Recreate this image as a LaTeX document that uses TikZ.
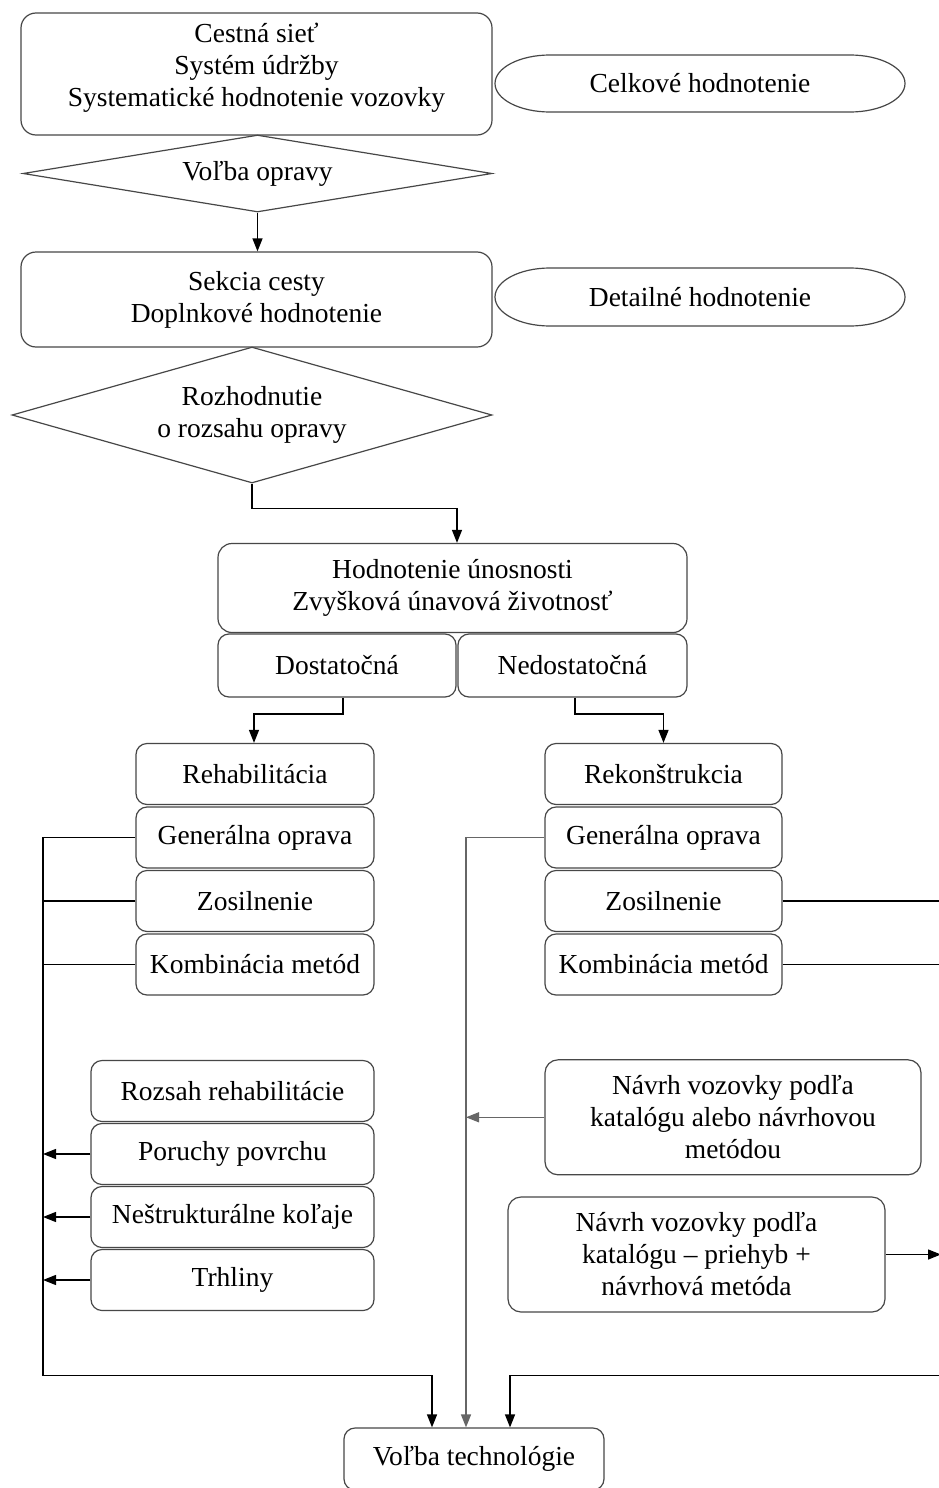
\documentclass[tikz,border=0pt]{standalone}
\usepackage{fontspec}
\setmainfont{Liberation Serif}
\usetikzlibrary{shapes.geometric,arrows.meta,calc}
\begin{document}
\begin{tikzpicture}[x=1pt,y=-1pt,
  every node/.style={font=\fontsize{27.5}{32}\selectfont, align=center, inner sep=0pt},
  rbox/.style n args={3}{draw=black!72, line width=1.2pt, rounded corners=#1, minimum width=#2, minimum height=#3},
  dia/.style={diamond, draw=black!72, line width=1.2pt},
  oval/.style={draw=black!72, line width=1.2pt},
  conn/.style={draw=black, line width=1.3pt},
  arr/.style={conn, -{Triangle[length=13pt,width=10pt]}},
  mid/.style={draw=black!60}
]
\useasboundingbox (0,0) rectangle (939,1488);
\fill[white] (0,0) rectangle (939,1488);

% top part
\node[rbox={15pt}{471pt}{122pt}] (box1) at (256.5,74) {};
\node (box1t) at (256.5,67.5) {Cestná sieť\\Systém údržby\\Systematické hodnotenie vozovky};

\node (cel) at (700,83.5) {Celkové hodnotenie};
\draw[oval] ($(cel.center)+(-150,-28.5)$) -- ($(cel.center)+(150,-28.5)$)
  arc[start angle=90, end angle=-90, x radius=55pt, y radius=28.5pt]
  -- ($(cel.center)+(-150,28.5)$)
  arc[start angle=270, end angle=90, x radius=55pt, y radius=28.5pt] -- cycle;

\node[dia, aspect=6, minimum width=469pt, minimum height=77pt] (dia1) at (257.5,173.5) {Voľba opravy};

\node[rbox={15pt}{471pt}{95pt}] (box2) at (256.5,299.5) {Sekcia cesty\\Doplnkové hodnotenie};

\node (det) at (700,297) {Detailné hodnotenie};
\draw[oval] ($(det.center)+(-150,-29)$) -- ($(det.center)+(150,-29)$)
  arc[start angle=90, end angle=-90, x radius=55pt, y radius=29pt]
  -- ($(det.center)+(-150,29)$)
  arc[start angle=270, end angle=90, x radius=55pt, y radius=29pt] -- cycle;

\node[dia, aspect=3.5, minimum width=480pt, minimum height=136pt] (dia2) at (252,415) {Rozhodnutie\\o rozsahu opravy};

% bearing capacity
\node[rbox={14pt}{469pt}{89pt}] (hod) at (452.5,588) {Hodnotenie únosnosti\\Zvyšková únavová životnosť};
\node[rbox={11pt}{238pt}{63pt}] (dos) at (337,665.5) {Dostatočná};
\node[rbox={11pt}{229pt}{63pt}] (ned) at (572.5,665.5) {Nedostatočná};

% left column
\node[rbox={11pt}{238pt}{61pt}] (reh) at (255,774) {Rehabilitácia};
\node[rbox={11pt}{238pt}{61pt}] (gen1) at (255,837.5) {Generálna oprava};
\node[rbox={11pt}{238pt}{61pt}] (zos1) at (255,901) {Zosilnenie};
\node[rbox={11pt}{238pt}{61pt}] (kom1) at (255,964.5) {Kombinácia metód};

% right column
\node[rbox={11pt}{237pt}{61pt}] (rek) at (663.5,774) {Rekonštrukcia};
\node[rbox={11pt}{237pt}{61pt}] (gen2) at (663.5,837.5) {Generálna oprava};
\node[rbox={11pt}{237pt}{61pt}] (zos2) at (663.5,901) {Zosilnenie};
\node[rbox={11pt}{237pt}{61pt}] (kom2) at (663.5,964.5) {Kombinácia metód};

% lower left column
\node[rbox={11pt}{283pt}{61pt}] (roz) at (232.5,1091) {Rozsah rehabilitácie};
\node[rbox={11pt}{283pt}{61pt}] (por) at (232.5,1154) {Poruchy povrchu};
\node[rbox={11pt}{283pt}{61pt}] (nes) at (232.5,1217) {Neštrukturálne koľaje};
\node[rbox={11pt}{283pt}{61pt}] (trh) at (232.5,1280) {Trhliny};

% design boxes
\node[rbox={13pt}{376pt}{115pt}] (nav1) at (733,1117.3) {Návrh vozovky podľa\\katalógu alebo návrhovou\\metódou};
\node[rbox={13pt}{377pt}{115pt}] (nav2) at (696.5,1254.5) {Návrh vozovky podľa\\katalógu – priehyb +\\návrhová metóda};

% final
\node[rbox={11pt}{260pt}{62pt}] (vt) at (474,1459) {Voľba technológie};

% connectors
\draw[arr] (dia1.south) -- (dia1.south |- box2.north);

\coordinate (j1) at (457,508.6);
\draw[arr] (dia2.south) |- (j1) -- (j1 |- hod.north);

\coordinate (k1) at (254,714);
\draw[arr] ([xshift=6pt]dos.south) |- (k1) -- (k1 |- reh.north);
\coordinate (k2) at (663.5,714);
\draw[arr] ([xshift=2.5pt]ned.south) |- (k2) -- (k2 |- rek.north);

\coordinate (L) at (43,1375.5);
\coordinate (Lc) at (432,1375.5);
\draw[arr] (gen1.west) -| (L) -- (Lc) -- (Lc |- vt.north);
\draw[conn] (zos1.west) -- (zos1.west -| L);
\draw[conn] (kom1.west) -- (kom1.west -| L);
\draw[arr] (por.west) -- (por.west -| L);
\draw[arr] (nes.west) -- (nes.west -| L);
\draw[arr] (trh.west) -- (trh.west -| L);

\coordinate (M) at (466,0);
\draw[arr,mid] (gen2.west) -| (M |- vt.north);
\draw[arr,mid] (nav1.west) -- (nav1.west -| M);

\coordinate (R) at (941,1375.5);
\coordinate (Rc) at (510,1375.5);
\draw[arr] (zos2.east) -| (R) -- (Rc) -- (Rc |- vt.north);
\draw[conn] (kom2.east) -- (kom2.east -| R);
\draw[arr] (nav2.east) -- (nav2.east -| R);
\end{tikzpicture}
\end{document}
